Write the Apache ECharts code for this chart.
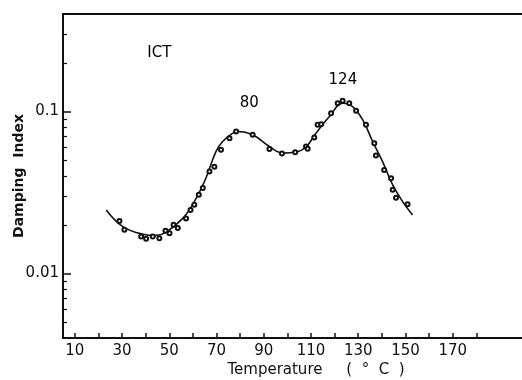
<!DOCTYPE html>
<html><head><meta charset="utf-8">
<script src="https://cdn.jsdelivr.net/npm/echarts@6/dist/echarts.min.js"></script>
<style>html,body{margin:0;padding:0;background:#fff;overflow:hidden}#c{width:522px;height:380px}</style>
</head><body><div id="c"></div>
<script>
// fitted curve (temperature °C, damping index)
const curveT = [23.3, 30.3, 38.8, 44.4, 48.7, 55.7, 59.9, 64.9, 69.8, 72.6, 76.9, 79.0, 85.3, 92.4, 98.0, 103.7, 107.9, 112.1, 117.8, 123.4, 127.6, 131.9, 136.1, 140.3, 144.6, 148.8, 153.0];
const curveD = [0.0247, 0.0195, 0.0175, 0.0172, 0.0180, 0.0219, 0.0266, 0.0370, 0.0567, 0.0653, 0.0735, 0.0753, 0.0718, 0.0608, 0.0554, 0.0562, 0.0604, 0.0735, 0.0931, 0.1125, 0.1074, 0.0889, 0.0653, 0.0491, 0.0353, 0.0278, 0.0230];
// measured points
const pointT = [28.9, 31.0, 38.1, 40.2, 43.0, 45.8, 48.4, 50.1, 51.8, 53.6, 57.1, 59.0, 60.6, 62.5, 64.2, 67.0, 69.1, 71.9, 75.5, 78.3, 85.3, 92.4, 97.7, 103.3, 107.9, 108.6, 111.4, 112.8, 114.3, 118.5, 121.3, 123.4, 126.2, 129.1, 133.3, 136.8, 137.5, 141.0, 143.9, 144.6, 146.0, 150.9];
const pointD = [0.0211, 0.0186, 0.0169, 0.0164, 0.0169, 0.0165, 0.0184, 0.0177, 0.0200, 0.0191, 0.0219, 0.0247, 0.0266, 0.0306, 0.0337, 0.0426, 0.0457, 0.0581, 0.0684, 0.0753, 0.0718, 0.0587, 0.0550, 0.0560, 0.0608, 0.0589, 0.0692, 0.0828, 0.0835, 0.0977, 0.1125, 0.1164, 0.1125, 0.1010, 0.0828, 0.0637, 0.0535, 0.0436, 0.0387, 0.0329, 0.0294, 0.0268];
// axis ticks and labels
const xTicks = [10, 20, 30, 40, 50, 60, 70, 80, 90, 100, 110, 120, 130, 140, 150, 160, 170, 180];
const xLabels = [10, 30, 50, 70, 90, 110, 130, 150, 170];
const yMajor = [0.01, 0.1];
const yMinor = [0.005, 0.006, 0.007, 0.008, 0.009, 0.02, 0.03, 0.04, 0.05, 0.06, 0.07, 0.08, 0.09, 0.2, 0.3];
// annotations
const noteText = ['ICT', '80', '124'];
const noteT = [45.8, 83.9, 123.5];
const noteD = [0.2296, 0.112, 0.156];

const FONT = 'DejaVu Sans';
const INK = '#111';
const chart = echarts.init(document.getElementById('c'), null, {renderer: 'canvas'});
const yBase = {
  type: 'log', logBase: 10, min: 0.004, max: 0.4, position: 'left',
  splitLine: {show: false}, minorTick: {show: false}
};
chart.setOption({
  animation: false,
  backgroundColor: '#fff',
  grid: {left: 63, width: 470, top: 14, bottom: 42, outerBoundsMode: 'none', containLabel: false,
         show: true, borderColor: INK, borderWidth: 2},
  xAxis: {
    type: 'value', min: 5, max: 204,
    name: 'Temperature     (  \u00b0  C  )', nameLocation: 'middle', nameGap: 25, nameMoveOverlap: false,
    nameTextStyle: {fontFamily: FONT, fontSize: 15, color: INK, padding: [0, 0, 0, 36]},
    axisLine: {lineStyle: {color: INK, width: 2}},
    axisTick: {inside: true, length: 5, lineStyle: {color: INK, width: 1.5}, customValues: xTicks},
    axisLabel: {fontFamily: FONT, fontSize: 15, color: INK, margin: 6, customValues: xLabels},
    splitLine: {show: false}
  },
  yAxis: [
    Object.assign({}, yBase, {
      name: 'Damping  Index', nameLocation: 'middle', nameGap: 37, nameRotate: 90, nameMoveOverlap: false,
      nameTextStyle: {fontFamily: FONT, fontSize: 14, fontWeight: 'bold', color: INK},
      axisLine: {lineStyle: {color: INK, width: 2}},
      axisTick: {inside: true, length: 8, lineStyle: {color: INK, width: 1.5}, customValues: yMajor},
      axisLabel: {fontFamily: FONT, fontSize: 15, color: INK, margin: 4, customValues: yMajor}
    }),
    Object.assign({}, yBase, {
      axisLine: {show: false},
      axisTick: {inside: true, length: 4, lineStyle: {color: INK, width: 1.2}, customValues: yMinor},
      axisLabel: {show: false}
    })
  ],
  series: [
    {
      type: 'line', smooth: 0.4, showSymbol: false, yAxisIndex: 0,
      data: curveT.map((t, i) => [t, curveD[i]]),
      lineStyle: {color: INK, width: 1.6}, z: 3
    },
    {
      type: 'scatter', yAxisIndex: 0,
      data: pointT.map((t, i) => [t, pointD[i]]),
      symbol: 'emptyCircle', symbolSize: 4,
      itemStyle: {color: INK, borderColor: INK, borderWidth: 1, opacity: 1}, z: 4
    },
    {
      type: 'scatter', yAxisIndex: 0, silent: true,
      data: noteT.map((t, i) => ({name: noteText[i], value: [t, noteD[i]]})),
      symbol: 'circle', symbolSize: 0, itemStyle: {color: '#fff', opacity: 1},
      label: {show: true, position: 'inside', formatter: p => p.name, fontFamily: FONT,
              fontSize: 15, color: '#000', opacity: 1, textBorderWidth: 0},
      z: 5
    }
  ]
});
</script></body></html>
